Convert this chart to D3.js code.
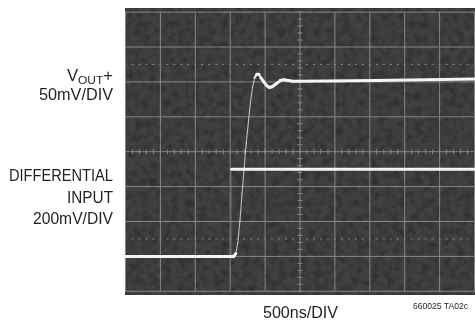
<!DOCTYPE html>
<html><head><meta charset="utf-8">
<script src="https://cdn.jsdelivr.net/npm/d3@7"></script>
<style>html,body{margin:0;padding:0;background:#fff;} svg{display:block;}</style>
</head><body><svg id="c" width="475" height="320"></svg>
<script>
// ---- data ----
// time in ns from left edge of screen (500ns/DIV, 10 DIV)
const outTimeNs = [0, 1550, 1580, 1610, 1640, 1670, 1700, 1730, 1760, 1790, 1820, 1850, 1880, 1910, 1940, 1980, 2020, 2060, 2100, 2140, 2180, 2220, 2270, 2330, 2400, 2500, 3600, 5000];
// VOUT+ in mV relative to its low level (50mV/DIV)
const outMv = [0, 0, 4, 20, 52, 90, 127, 162, 192, 221, 242, 256, 261, 261, 256, 250, 245, 242, 243, 246, 249, 252, 253, 252, 251, 251, 252, 254];
// differential input in mV (200mV/DIV)
const inTimeNs = [0, 1520, 1520, 5000];
const inMv = [0, 0, 500, 500];
// labels
const outLabelMain = "V", outLabelSub = "OUT", outLabelTail = "+";
const outScaleLabel = "50mV/DIV";
const inLabels = ["DIFFERENTIAL", "INPUT", "200mV/DIV"];
const timeLabel = "500ns/DIV";
const figId = "660025 TA02c";

// ---- layout ----
const svg = d3.select("#c");
const scr = {x0: 125, x1: 475, y0: 8, y1: 295};
const gx0 = 125.5, gx1 = 474.5, gy0 = 12.1, gy1 = 291.3;
const x = d3.scaleLinear().domain([0, 5000]).range([gx0, gx1]);
const yDiv = d3.scaleLinear().domain([-4, 4]).range([gy1, gy0]);
const yOut = d3.scaleLinear().domain([-50, 350]).range([gy1, gy0]);   // 0 mV at -3 DIV
const yIn = d3.scaleLinear().domain([-200, 1400]).range([gy1, gy0]);  // 0 mV at -3 DIV
const xDiv = d3.scaleLinear().domain([0, 10]).range([gx0, gx1]);

const defs = svg.append("defs");
const f = defs.append("filter").attr("id", "noise").attr("x", 0).attr("y", 0).attr("width", 1).attr("height", 1);
f.append("feTurbulence").attr("type", "fractalNoise").attr("baseFrequency", 0.14).attr("numOctaves", 3).attr("seed", 7);
f.append("feColorMatrix").attr("type", "matrix")
  .attr("values", "0 0 0 0 0  0 0 0 0 0  0 0 0 0 0  0 0 0 -1.8 1.1");
const glow = defs.append("filter").attr("id", "glow");
glow.append("feGaussianBlur").attr("stdDeviation", 0.45);
defs.append("clipPath").attr("id", "scr").append("rect")
  .attr("x", scr.x0).attr("y", scr.y0).attr("width", scr.x1 - scr.x0).attr("height", scr.y1 - scr.y0);

const screen = svg.append("g").attr("clip-path", "url(#scr)");
screen.append("rect").attr("x", scr.x0).attr("y", scr.y0).attr("width", scr.x1 - scr.x0).attr("height", scr.y1 - scr.y0)
  .attr("fill", "#404040");
screen.append("rect").attr("x", scr.x0).attr("y", scr.y0).attr("width", scr.x1 - scr.x0).attr("height", scr.y1 - scr.y0)
  .attr("filter", "url(#noise)").attr("opacity", 0.3);

// graticule
const grid = screen.append("g").attr("stroke", "#b0b0b0").attr("stroke-width", 1).attr("opacity", 0.65).attr("filter", "url(#glow)");
d3.range(0, 11).forEach(d => {
  grid.append("line").attr("x1", xDiv(d)).attr("x2", xDiv(d)).attr("y1", gy0).attr("y2", gy1);
});
d3.range(-4, 5).forEach(d => {
  grid.append("line").attr("y1", yDiv(d)).attr("y2", yDiv(d)).attr("x1", gx0).attr("x2", gx1);
});
// minor ticks on centre lines
d3.range(0, 50.01, 1).forEach(m => {
  const xx = xDiv(m / 5);
  grid.append("line").attr("x1", xx).attr("x2", xx).attr("y1", yDiv(0) - 2.5).attr("y2", yDiv(0) + 2.5);
});
d3.range(-20, 20.01, 1).forEach(m => {
  const yy = yDiv(m / 5);
  grid.append("line").attr("y1", yy).attr("y2", yy).attr("x1", xDiv(5) - 2.5).attr("x2", xDiv(5) + 2.5);
});
// dotted lines at +/-2.5 DIV
[-2.5, 2.5].forEach(d => {
  d3.range(0, 50.01, 1).forEach(m => {
    const xx = xDiv(m / 5);
    grid.append("line").attr("x1", xx - 1).attr("x2", xx + 1).attr("y1", yDiv(d)).attr("y2", yDiv(d));
  });
});

// traces: brightness/width fall with slew rate like a real CRT trace
function drawTrace(ts, vs, ys) {
  const g = screen.append("g").attr("stroke", "#f4f4f4").attr("stroke-linecap", "round").attr("filter", "url(#glow)");
  for (let i = 0; i < ts.length - 1; i++) {
    const x1 = x(ts[i]), x2 = x(ts[i + 1]), y1 = ys(vs[i]), y2 = ys(vs[i + 1]);
    const slope = Math.abs(y2 - y1) / Math.max(Math.abs(x2 - x1), 0.01);
    let w = 3, o = 1;
    if (slope > 50) { w = 1; o = 0.15; }
    else if (slope > 4) { w = 1.1; o = 0.7; }
    else if (slope > 1.5) { w = 2.2; o = 0.9; }
    g.append("line").attr("x1", x1).attr("y1", y1).attr("x2", x2).attr("y2", y2)
      .attr("stroke-width", w).attr("opacity", o);
  }
}
drawTrace(inTimeNs, inMv, yIn);
drawTrace(outTimeNs, outMv, yOut);

// labels
const font = "'Liberation Sans', Arial, Helvetica, sans-serif";
const lab = svg.append("g").attr("font-family", font).attr("fill", "#231f20").attr("text-anchor", "end");
const t1 = lab.append("text").attr("x", 113).attr("y", 81).attr("font-size", 16)
  .attr("textLength", 46).attr("lengthAdjust", "spacingAndGlyphs");
t1.append("tspan").text(outLabelMain);
t1.append("tspan").attr("font-size", 11.5).attr("dy", 2.5).text(outLabelSub);
t1.append("tspan").attr("dy", -2.5).text(outLabelTail);
lab.append("text").attr("x", 113).attr("y", 100).attr("font-size", 16)
  .attr("textLength", 74).attr("lengthAdjust", "spacingAndGlyphs").text(outScaleLabel);
const inW = [104, 46, 80], inY = [181, 203, 224];
inLabels.forEach((s, i) => {
  lab.append("text").attr("x", 113).attr("y", inY[i]).attr("font-size", 16)
    .attr("textLength", inW[i]).attr("lengthAdjust", "spacingAndGlyphs").text(s);
});
svg.append("text").attr("x", 263).attr("y", 318).attr("font-family", font).attr("font-size", 16).attr("fill", "#231f20")
  .attr("textLength", 75).attr("lengthAdjust", "spacingAndGlyphs").text(timeLabel);
svg.append("text").attr("x", 413).attr("y", 309).attr("font-family", font).attr("font-size", 9).attr("fill", "#231f20")
  .attr("textLength", 55).attr("lengthAdjust", "spacingAndGlyphs").text(figId);
</script></body></html>
